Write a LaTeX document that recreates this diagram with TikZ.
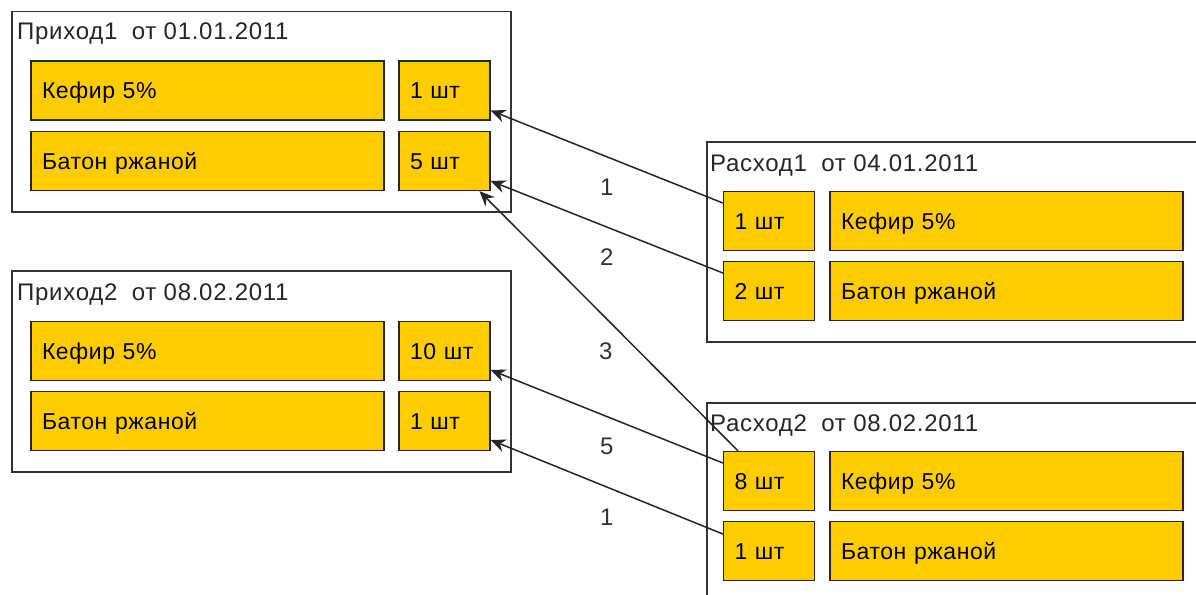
\documentclass[tikz,border=0pt]{standalone}
\usepackage{fontspec}
\setmainfont{Liberation Sans}
\newfontfamily\cellfont{Liberation Sans}[LetterSpace=2.5]
\newfontfamily\titlefont{Liberation Sans}[LetterSpace=3]
\usetikzlibrary{arrows.meta,positioning,calc}
\definecolor{kefir}{HTML}{FFCC00}
\definecolor{frame}{HTML}{333333}
\tikzset{
  doc/.style={draw=frame,line width=1.5pt,anchor=north west,inner sep=0pt},
  doctitle/.style={anchor=base west,inner sep=0pt,font=\titlefont\fontsize{24}{28}\selectfont,text=black!85},
  cell/.style={draw=black!85,fill=kefir,line width=1.3pt,minimum height=59pt,
    inner xsep=11pt,inner ysep=0pt,align=left,text height=16.5pt,text depth=0pt,
    font=\cellfont\fontsize{23}{26}\selectfont,text=black},
  namecell/.style={cell,text width=331pt},
  qtycell/.style={cell,text width=69pt},
  link/.style={line width=1.5pt,draw=black!85,-{Stealth[length=15pt,width=13pt,inset=5pt]}},
  amount/.style={pos=0.5,yshift=-30pt,font=\fontsize{24}{28}\selectfont,text=black!80}
}

\begin{document}
\begin{tikzpicture}[x=1pt,y=-1pt]
\useasboundingbox (0,0) rectangle (1196,594);

% documents
\node[doc,minimum width=499pt,minimum height=200pt] (prihod1) at (11,11) {};
\node[doc,minimum width=499pt,minimum height=201pt] (prihod2) at (11,270) {};
\node[doc,minimum width=510pt,minimum height=200pt] (rashod1) at (706,141) {};
\node[doc,minimum width=510pt,minimum height=220pt] (rashod2) at (706,402) {};

\node[doctitle] (t1) at (17,40) {Приход1\hspace{0.6em}от 01.01.2011};
\node[doctitle] (t2) at (17,300) {Приход2\hspace{0.6em}от 08.02.2011};
\node[doctitle] (t3) at (710,171) {Расход1\hspace{0.6em}от 04.01.2011};
\node[doctitle] (t4) at (710,431) {Расход2\hspace{0.6em}от 08.02.2011};

% rows
\node[namecell] (p1k) at (207.5,90.5) {Кефир 5\%};
\node[qtycell] (p1kq) at (444.5,90.5) {1 шт};
\node[namecell] (p1b) at (207.5,161) {Батон ржаной};
\node[qtycell] (p1bq) at (444.5,161) {5 шт};

\node[namecell] (p2k) at (207.5,351) {Кефир 5\%};
\node[qtycell] (p2kq) at (444.5,351) {10 шт};
\node[namecell] (p2b) at (207.5,421) {Батон ржаной};
\node[qtycell] (p2bq) at (444.5,421) {1 шт};

\node[qtycell] (r1kq) at (769,221) {1 шт};
\node[namecell] (r1k) at (1006.5,221) {Кефир 5\%};
\node[qtycell] (r1bq) at (769,291) {2 шт};
\node[namecell] (r1b) at (1006.5,291) {Батон ржаной};

\node[qtycell] (r2kq) at (769,481) {8 шт};
\node[namecell] (r2k) at (1006.5,481) {Кефир 5\%};
\node[qtycell] (r2bq) at (769,551) {1 шт};
\node[namecell] (r2b) at (1006.5,551) {Батон ржаной};

% write-offs
\draw[link] ([yshift=18pt]r1kq.west) -- node[amount] {1} ([yshift=-20pt]p1kq.east);
\draw[link] ([yshift=18pt]r1bq.west) -- node[amount] {2} ([yshift=-20pt]p1bq.east);
\draw[link] ([xshift=-31pt]r2kq.north) -- node[amount,xshift=-3pt] {3} ([xshift=35pt]p1bq.south);
\draw[link] ([yshift=18pt]r2kq.west) -- node[amount] {5} ([yshift=-19pt]p2kq.east);
\draw[link] ([yshift=17pt]r2bq.west) -- node[amount] {1} ([yshift=-19pt]p2bq.east);
\end{tikzpicture}
\end{document}
